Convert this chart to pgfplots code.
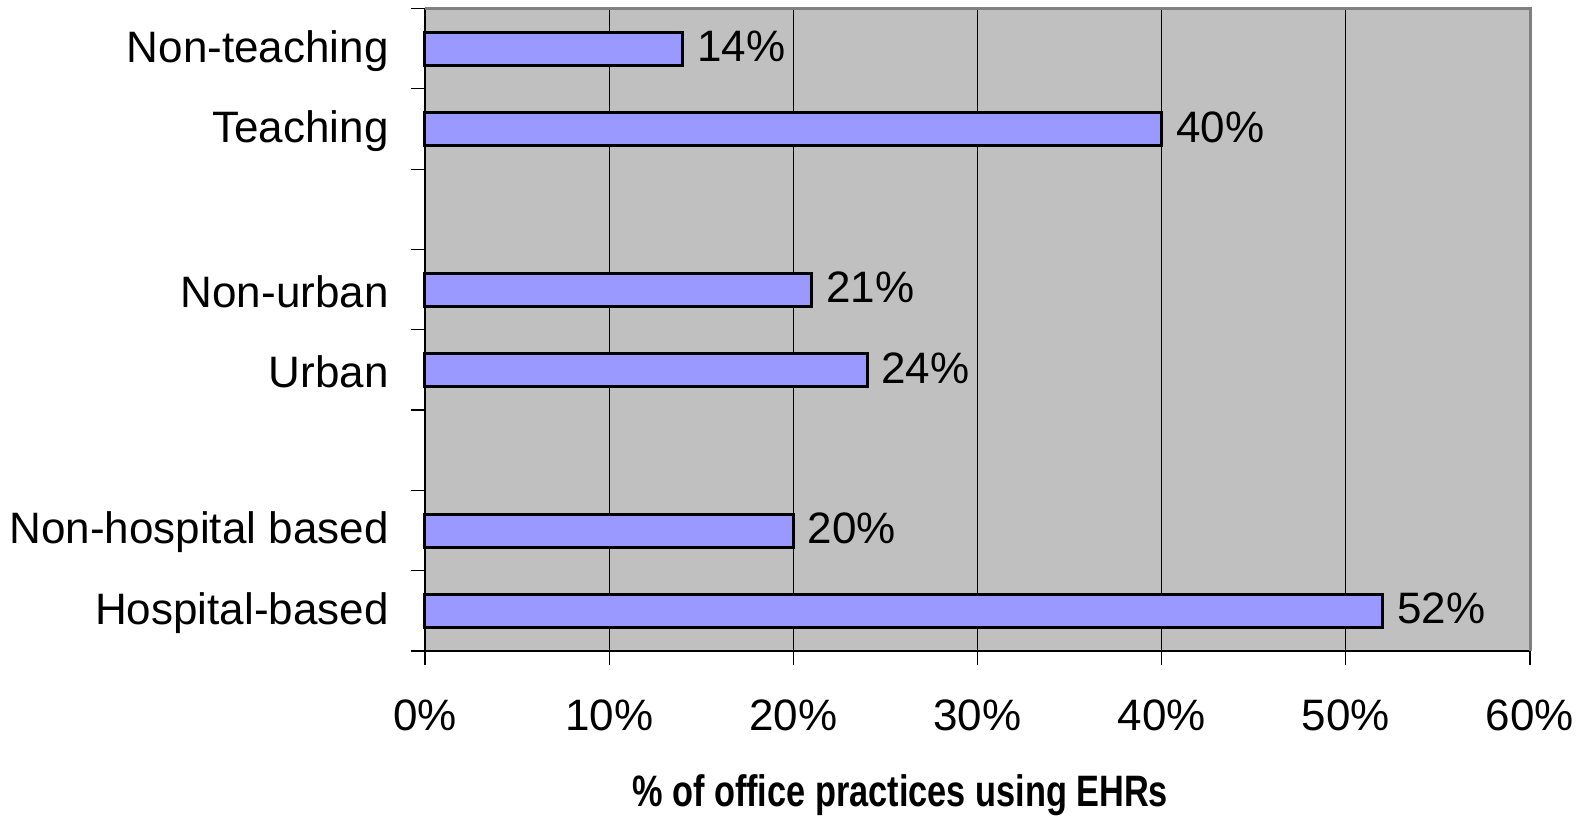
\documentclass[border=0pt]{standalone}
\usepackage{pgfplots}
\pgfplotsset{compat=1.18}
\usepackage{fontspec}
\setmainfont{Liberation Sans}
\usepackage{graphicx}
\definecolor{barfill}{RGB}{153,153,255}
\definecolor{plotbg}{RGB}{192,192,192}
\definecolor{framegray}{RGB}{128,128,128}
\begin{document}
\begin{tikzpicture}
\begin{axis}[
  name=ax,
  scale only axis, width=552.5pt, height=321.25pt,
  xbar, bar width=16.5pt,
  xmin=0, xmax=60, ymin=-0.5, ymax=7.5,
  clip=false,
  axis background/.style={fill=plotbg},
  axis x line*=bottom, axis y line*=left,
  axis line style={black, line width=0.9pt},
  /pgf/number format/assume math mode=true,
  tick label style={font=\fontsize{22}{26}\selectfont},
  tick style={black, line width=0.6pt},
  tick align=outside,
  major tick length=7pt,
  xtick={0,10,...,60},
  xticklabels={0\%,10\%,20\%,30\%,40\%,50\%,60\%},
  xticklabel style={inner sep=0pt, yshift=-17pt},
  xmajorgrids, major grid style={black, line width=0.6pt},
  ytick={-0.5,0.5,...,7.5},
  yticklabels={,,,,,,,,},
  yticklabel style={text opacity=0, inner sep=0pt},
  extra y ticks={0,1,3,4,6,7},
  extra y tick labels={Hospital-based,Non-hospital based,Urban,Non-urban,Teaching,Non-teaching},
  extra y tick style={major tick length=0pt, tick style={draw=none},
     yticklabel style={text opacity=1, anchor=east, inner sep=0pt, xshift=-18pt, yshift=-1pt}},
  xlabel={\scalebox{0.78}[1]{\bfseries\% of office practices using EHRs}},
  xlabel style={at={(rel axis cs:0.43,0)}, anchor=base, inner sep=0pt, yshift=-78pt, font=\fontsize{22}{26}\selectfont},
  nodes near coords={\pgfmathprintnumber{\pgfplotspointmeta}\%},
  nodes near coords style={anchor=west, inner sep=0pt, xshift=6.5pt, yshift=1pt, font=\fontsize{22}{26}\selectfont, black},
]
\addplot[draw=black, line width=1.5pt, fill=barfill] coordinates {
  (52,0) (20,1) (24,3) (21,4) (40,6) (14,7)
};
\draw[framegray, line width=1.5pt] (rel axis cs:0,1) -- (rel axis cs:1,1) -- (rel axis cs:1,0);
\end{axis}
\path ([shift={(-212.5pt,-83.5pt)}]ax.south west) rectangle ([shift={(30.5pt,4.25pt)}]ax.north east);
\end{tikzpicture}
\end{document}
